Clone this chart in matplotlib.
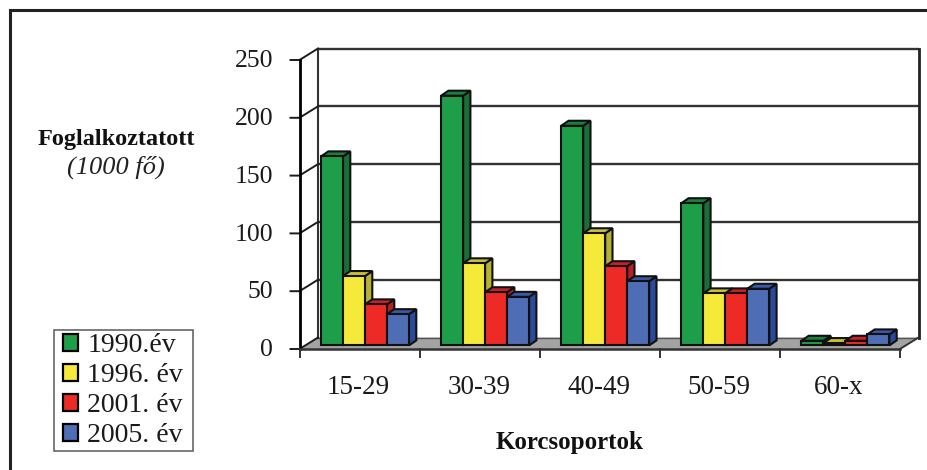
import matplotlib
matplotlib.use("Agg")
import matplotlib.pyplot as plt
from matplotlib.patches import Polygon, Patch, Rectangle

categories = ["15-29", "30-39", "40-49", "50-59", "60-x"]
series_names = ["1990.év", "1996. év", "2001. év", "2005. év"]
v1990 = [163.5, 216, 190, 123, 4]
v1996 = [60, 71, 97, 45, 2]
v2001 = [35.5, 46, 68.5, 45, 4]
v2005 = [27, 42, 55.5, 49, 9.5]
series = [v1990, v1996, v2001, v2005]
front = ["#1f9e4a", "#f5ea3a", "#ee2a27", "#4f6db5"]
side = ["#1a6e38", "#b5b233", "#b51f25", "#2c4a9c"]
top = ["#1c7f3f", "#c9c232", "#c92226", "#3a59a8"]
yticks = [0, 50, 100, 150, 200, 250]

W, H = 927, 470
plt.rcParams["font.family"] = ["Liberation Serif", "DejaVu Serif"]
fig = plt.figure(figsize=(W / 100, H / 100), dpi=100, facecolor="white")
L, R, T, B = 299.5, 900, 60, 349
ax = fig.add_axes([L / W, 1 - B / H, (R - L) / W, (B - T) / H])
ax.set_xlim(0, 5)
ax.set_ylim(0, 250)
ax.axis("off")

pxx = 5 / (R - L)
pxy = 250 / (B - T)
dx, dy = 18.5 * pxx, 11.5 * pxy
ln = "#1c1c1c"

# floor
ax.add_patch(Polygon([(0, 0), (5, 0), (5 + dx, dy), (dx, dy)], fc="#a3a3a3", ec="none", clip_on=False, zorder=1))
# back wall grid
for t in yticks[1:]:
    ax.plot([dx, 5 + dx], [t + dy] * 2, color="#333333", lw=1.7, clip_on=False, zorder=1.5, solid_capstyle="butt")
ax.plot([dx, 5 + dx], [dy, dy], color="#555555", lw=1.0, clip_on=False, zorder=1.5)
ax.plot([dx, dx], [dy, 250 + dy], color="#333333", lw=1.5, clip_on=False, zorder=1.5)
ax.plot([5 + dx, 5 + dx], [dy, 250 + dy], color="#222222", lw=2, clip_on=False, zorder=1.5)
# side wall ticks
for t in yticks:
    ax.plot([-9 * pxx, 0, dx], [t, t, t + dy], color=ln, lw=1.4, clip_on=False, zorder=1.6)
# front axes
ax.plot([0, 0], [0, 250], color="black", lw=2, clip_on=False, zorder=1.7)
ax.plot([0, 5], [0, 0], color="#333333", lw=1.8, clip_on=False, zorder=1.7)
ax.plot([5, 5 + dx], [0, dy], color="#333333", lw=1.4, clip_on=False, zorder=1.7)
for i in range(6):
    ax.plot([i, i], [0, -8 * pxy], color="#333333", lw=1.4, clip_on=False, zorder=1.7)

# bars
bw = 22 * pxx
start = 21.5 * pxx
fy = 3.6 * pxy
bx, by = 7.3 * pxx, 5 * pxy
z = 2.0
for c in range(len(categories)):
    for s in range(4):
        v = series[s][c]
        x0 = c + start + s * bw
        kw = dict(ec="#111111", lw=1.5, clip_on=False, joinstyle="miter")
        ax.add_patch(Polygon([(x0 + bw, fy), (x0 + bw + bx, fy + by), (x0 + bw + bx, fy + by + v), (x0 + bw, fy + v)],
                             fc=side[s], zorder=z, **kw))
        ax.add_patch(Polygon([(x0, fy + v), (x0 + bx, fy + by + v), (x0 + bw + bx, fy + by + v), (x0 + bw, fy + v)],
                             fc=top[s], zorder=z, **kw))
        ax.bar(x0, v, width=bw, bottom=fy, align="edge", color=front[s], edgecolor="#111111", lw=1.5,
               clip_on=False, zorder=z + 0.1)
        z += 0.2

for t in yticks:
    ax.text(-26.5 * pxx, t - 1.3 * pxy, str(t), ha="right", va="center", fontsize=18.5, color="#1a1a1a")
for i, c in enumerate(categories):
    ax.text(i + 0.5 - 1 * pxx, -38 * pxy, c, ha="center", va="center", fontsize=19.5, color="#1a1a1a")

fig.text(116 / W, 1 - 140 / H, "Foglalkoztatott", ha="center", va="center", fontsize=17.5, fontweight="bold", color="#111111")
fig.text(116 / W, 1 - 167 / H, "(1000 fő)", ha="center", va="center", fontsize=19, style="italic", color="#222222")
fig.text(570 / W, 1 - 442.5 / H, "Korcsoportok", ha="center", va="center", fontsize=18, fontweight="bold", color="#111111")

# outer frame (open at right and bottom, runs off the picture)
for xs, ys in [((10, 10), (H, 9.5)), ((10, W), (9.5, 9.5))]:
    fig.add_artist(plt.Line2D([x / W for x in xs], [1 - y / H for y in ys], color="#222222", lw=2.2))

# legend box, then entries inside it
fig.add_artist(Rectangle((54 / W, 1 - 451 / H), 139 / W, 121 / H, transform=fig.transFigure,
                         fc="white", ec="#666666", lw=1.2, zorder=5))
handles = [Patch(fc=f, ec="black", lw=1.6) for f in front]
leg = fig.legend(handles, series_names, loc="lower left", bbox_to_anchor=(63 / W, 1 - 448 / H), bbox_transform=fig.transFigure,
                 fontsize=20, frameon=False, borderaxespad=0, borderpad=0, labelspacing=0.18,
                 handlelength=0.55, handleheight=0.55, handletextpad=0.33)
leg.set_zorder(6)
for t in leg.get_texts():
    t.set_color("#1a1a1a")

fig.savefig("out.png", dpi=100, facecolor="white")
